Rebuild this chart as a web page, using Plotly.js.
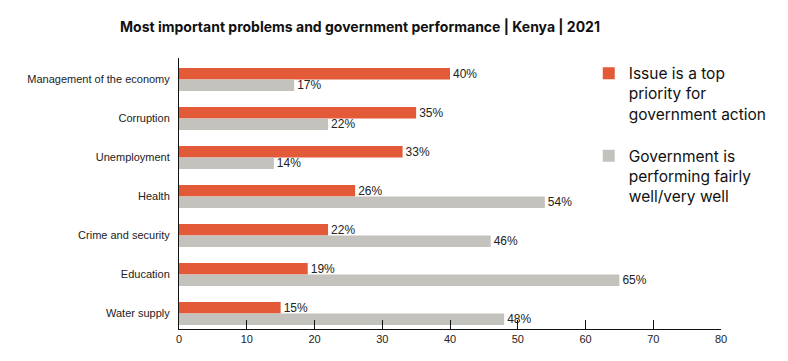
<!DOCTYPE html>
<html>
<head>
<meta charset="utf-8">
<script src="https://cdn.plot.ly/plotly-3.0.1.min.js"></script>
<style>html,body{margin:0;padding:0;background:#fff;}#chart{width:788px;height:361px;}</style>
</head>
<body>
<div id="chart"></div>
<script>
const categories = ["Management of the economy", "Corruption", "Unemployment", "Health", "Crime and security", "Education", "Water supply"];
const priorityValues = [40, 35, 33, 26, 22, 19, 15];
const performanceValues = [17, 22, 14, 54, 46, 65, 48];
const seriesNames = ["Issue is a top<br>priority for<br>government action", "Government is<br>performing fairly<br>well/very well"];
const xTickValues = [0, 10, 20, 30, 40, 50, 60, 70, 80];

const valueFont = {family: "Liberation Sans, Arial, sans-serif", size: 12, color: "#222"};

const traces = [
  {
    type: "bar", orientation: "h", name: seriesNames[0], legendgroup: "a",
    y: categories, x: priorityValues,
    marker: {color: "#E25A38"},
    text: priorityValues.map(v => v + "%"), textposition: "outside",
    constraintext: "none", textfont: valueFont, cliponaxis: false, hoverinfo: "x+y"
  },
  {
    type: "bar", orientation: "h", name: seriesNames[1], legendgroup: "b",
    y: categories, x: performanceValues,
    marker: {color: "#C3C2BC"},
    text: performanceValues.map(v => v + "%"), textposition: "outside",
    constraintext: "none", textfont: valueFont, cliponaxis: false, hoverinfo: "x+y"
  }
];

const layout = {
  width: 788, height: 361,
  margin: {l: 179, r: 67, t: 58, b: 32, autoexpand: false},
  paper_bgcolor: "#fff", plot_bgcolor: "#fff",
  font: {family: "Liberation Sans, Arial, sans-serif", color: "#222", size: 11},
  title: {
    text: "<b>Most important problems and government performance | Kenya | 2021</b>",
    font: {family: "Inter, Roboto, sans-serif", size: 14, color: "#111"},
    x: 360/788, xanchor: "center", y: 1 - 27/361, yanchor: "middle"
  },
  barmode: "group", bargap: 0.41, bargroupgap: 0,
  xaxis: {
    range: [0, 80], tickvals: xTickValues, showgrid: false, zeroline: false,
    showline: true, linecolor: "#111", linewidth: 1,
    ticks: "inside", ticklen: 9, tickcolor: "#111", tickwidth: 1,
    tickfont: {size: 11, color: "#222"}, fixedrange: true
  },
  yaxis: {
    type: "category", categoryorder: "array", categoryarray: categories,
    range: [6.40, -0.55], showgrid: false, zeroline: false,
    showline: true, linecolor: "#111", linewidth: 1,
    ticks: "outside", ticklen: 6, tickcolor: "rgba(0,0,0,0)",
    tickfont: {size: 11, color: "#222"}, fixedrange: true
  },
  showlegend: true,
  legend: {
    x: 0.756, y: 1.005, xanchor: "left", yanchor: "top",
    traceorder: "grouped", tracegroupgap: 19, valign: "top",
    itemwidth: 30,
    font: {family: "Inter, Roboto, sans-serif", size: 15.5, color: "#111"},
    bgcolor: "rgba(0,0,0,0)"
  }
};

Plotly.newPlot("chart", traces, layout, {displayModeBar: false, staticPlot: true});
</script>
</body>
</html>
